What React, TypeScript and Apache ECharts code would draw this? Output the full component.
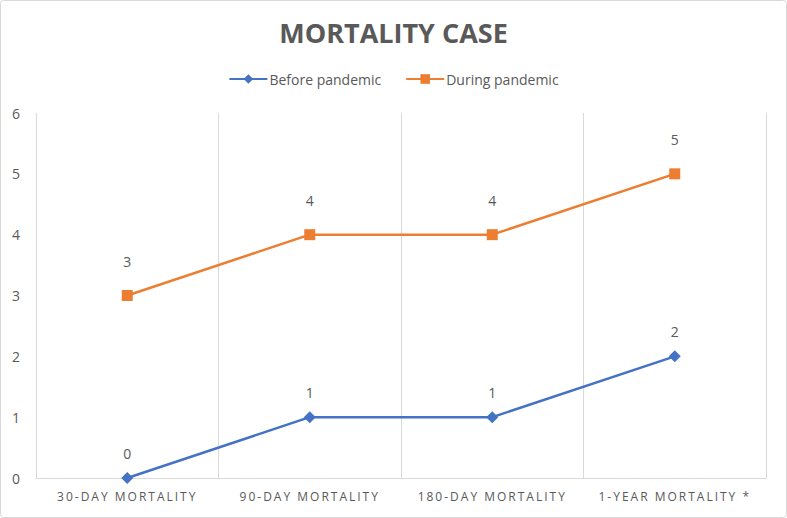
import React, { useEffect, useRef } from "react";
import * as echarts from "echarts";

const categories = ["30-DAY MORTALITY", "90-DAY MORTALITY", "180-DAY MORTALITY", "1-YEAR MORTALITY *"];
const beforePandemic = [0, 1, 1, 2];
const duringPandemic = [3, 4, 4, 5];
const yTicks = { min: 0, max: 6, interval: 1 };

export default function App() {
  const ref = useRef<HTMLDivElement>(null);
  useEffect(() => {
    if (!ref.current) return;
    const el = ref.current;
    const chart = echarts.init(el, null, { renderer: "svg" });
    const font = "'Open Sans', 'Noto Sans', sans-serif";
    const spaceLabels = () => {
      el.querySelectorAll("text").forEach((t) => {
        const s = (t.textContent || "").trim();
        if (categories.indexOf(s) >= 0) {
          t.setAttribute("letter-spacing", "2");
        }
      });
    };
    chart.on("finished", spaceLabels);
    chart.setOption({
      animation: false,
      backgroundColor: "#ffffff",
      title: {
        text: "MORTALITY CASE",
        left: "center",
        top: 14,
        textStyle: { fontFamily: font, fontSize: 27, fontWeight: "bold", color: "#595959" },
      },
      legend: {
        top: 67,
        left: "center",
        itemWidth: 38,
        itemHeight: 12,
        itemGap: 24,
        textStyle: { fontFamily: font, fontSize: 14, color: "#595959", padding: [0, 0, 0, -3] },
        data: ["Before pandemic", "During pandemic"],
      },
      graphic: [
        {
          type: "rect",
          shape: { x: 0.5, y: 0.5, width: 786, height: 517, r: 3 },
          style: { fill: "none", stroke: "#d9d9d9", lineWidth: 1 },
          silent: true,
        },
      ],
      grid: { left: 36, right: 21, top: 113, bottom: 40 },
      xAxis: {
        type: "category",
        data: categories,
        boundaryGap: true,
        axisLine: { show: true, lineStyle: { color: "#d9d9d9", width: 1 } },
        axisTick: { show: false },
        axisLabel: { fontFamily: font, fontSize: 12, color: "#595959", margin: 12 },
        splitLine: { show: true, interval: 0, lineStyle: { color: "#d9d9d9", width: 1 } },
      },
      yAxis: {
        type: "value",
        min: yTicks.min,
        max: yTicks.max,
        interval: yTicks.interval,
        axisLine: { show: false },
        axisTick: { show: false },
        splitLine: { show: false },
        axisLabel: { fontFamily: font, fontSize: 14, color: "#595959", margin: 16 },
      },
      series: [
        {
          name: "Before pandemic",
          type: "line",
          data: beforePandemic,
          symbol: "diamond",
          symbolSize: 12,
          color: "#4472C4",
          lineStyle: { width: 2.5, color: "#4472C4" },
          itemStyle: { color: "#4472C4" },
          label: { show: true, position: "top", distance: 12, fontFamily: font, fontSize: 14, color: "#595959" },
        },
        {
          name: "During pandemic",
          type: "line",
          data: duringPandemic,
          symbol: "rect",
          symbolSize: 11,
          color: "#ED7D31",
          lineStyle: { width: 2.5, color: "#ED7D31" },
          itemStyle: { color: "#ED7D31" },
          label: { show: true, position: "top", distance: 22, fontFamily: font, fontSize: 14, color: "#595959" },
        },
      ],
    });
    spaceLabels();
    const raf = requestAnimationFrame(spaceLabels);
    return () => {
      cancelAnimationFrame(raf);
      chart.dispose();
    };
  }, []);
  return (
    <div
      ref={ref}
      style={{ position: "fixed", left: 0, top: 0, width: 787, height: 518 }}
    />
  );
}
